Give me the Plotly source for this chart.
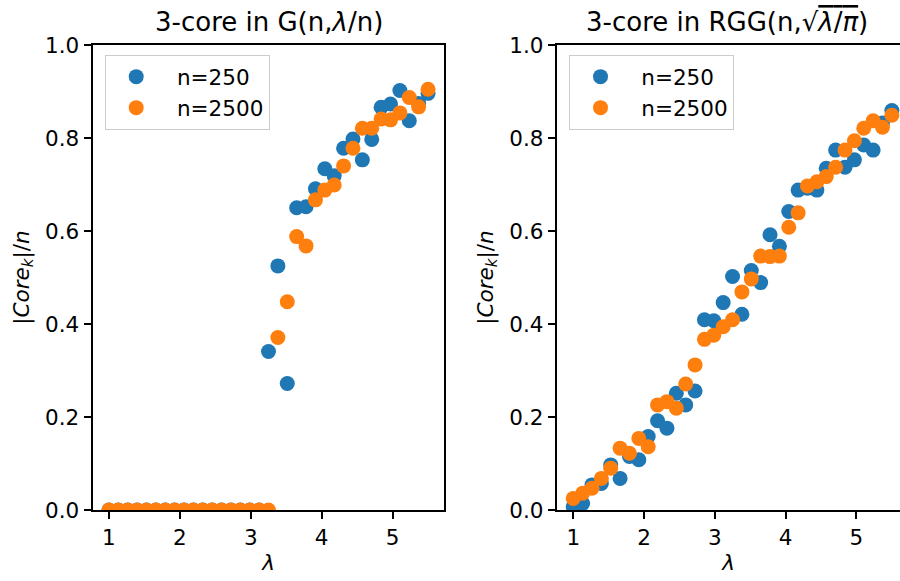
import plotly.graph_objects as go

# lambda values (x) shared by all series
lam = [1.0, 1.1324, 1.2647, 1.3971, 1.5294, 1.6618, 1.7941, 1.9265, 2.0588,
       2.1912, 2.3235, 2.4559, 2.5882, 2.7206, 2.8529, 2.9853, 3.1176, 3.25,
       3.3824, 3.5147, 3.6471, 3.7794, 3.9118, 4.0441, 4.1765, 4.3088, 4.4412,
       4.5735, 4.7059, 4.8382, 4.9706, 5.1029, 5.2353, 5.3676, 5.5]

# Left: 3-core in G(n, lambda/n)
gnp_250 = [0.0, 0.0, 0.0, 0.0, 0.0, 0.0, 0.0, 0.0, 0.0, 0.0, 0.0, 0.0, 0.0,
           0.0, 0.0, 0.0, 0.0, 0.341, 0.525, 0.272, 0.650, 0.652, 0.691,
           0.734, 0.719, 0.778, 0.798, 0.753, 0.797, 0.866, 0.873, 0.902,
           0.837, 0.874, 0.896]
gnp_2500 = [0.0, 0.0, 0.0, 0.0, 0.0, 0.0, 0.0, 0.0, 0.0, 0.0, 0.0, 0.0, 0.0,
            0.0, 0.0, 0.0, 0.0, 0.0, 0.371, 0.448, 0.588, 0.568, 0.667,
            0.688, 0.699, 0.740, 0.778, 0.821, 0.821, 0.841, 0.839, 0.854,
            0.887, 0.867, 0.905]

# Right: 3-core in RGG(n, sqrt(lambda/pi))
rgg_250 = [0.007, 0.014, 0.054, 0.057, 0.097, 0.068, 0.115, 0.108, 0.158,
           0.192, 0.176, 0.251, 0.226, 0.256, 0.409, 0.407, 0.446, 0.502,
           0.421, 0.515, 0.489, 0.592, 0.567, 0.642, 0.688, 0.692, 0.688,
           0.735, 0.774, 0.737, 0.753, 0.785, 0.774, 0.832, 0.859]
rgg_2500 = [0.025, 0.036, 0.047, 0.068, 0.090, 0.133, 0.122, 0.154, 0.136,
            0.226, 0.233, 0.219, 0.271, 0.312, 0.367, 0.376, 0.394, 0.409,
            0.469, 0.497, 0.546, 0.545, 0.546, 0.608, 0.639, 0.697, 0.706,
            0.717, 0.737, 0.774, 0.794, 0.821, 0.837, 0.823, 0.849]

labels = ["n=250", "n=2500"]
colors = ["#1f77b4", "#ff7f0e"]
x_ticks = [1, 2, 3, 4, 5]
y_ticks = [0.0, 0.2, 0.4, 0.6, 0.8, 1.0]
titles = ["3-core in G(n,<i>λ</i>/n)",
          "3-core in RGG(n,√<span style='text-decoration:overline'><i>λ</i>/<i>π</i></span>)"]

FONT = "DejaVu Sans"
FS = 21.5
MS = 15
PAD = "\u2002"  # en space before legend labels

fig = go.Figure()
for ys, name, col in zip([gnp_250, gnp_2500], labels, colors):
    fig.add_trace(go.Scatter(x=lam, y=ys, mode="markers", name=PAD + name,
                             marker=dict(color=col, size=MS),
                             xaxis="x", yaxis="y", legend="legend"))
for ys, name, col in zip([rgg_250, rgg_2500], labels, colors):
    fig.add_trace(go.Scatter(x=lam, y=ys, mode="markers", name=PAD + name,
                             marker=dict(color=col, size=MS),
                             xaxis="x2", yaxis="y2", legend="legend2"))

W, H = 900, 581
ML, MR, MT, MB = 93, 0, 45, 71
PW = W - ML - MR
PH = H - MT - MB
d1 = [0, 351 / PW]
d2 = [(557.3 - ML) / PW, 1]

axis_common = dict(showgrid=False, zeroline=False, showline=True,
                   linecolor="black", linewidth=1.7, ticks="outside",
                   ticklen=7.6, tickwidth=1.7, tickcolor="black",
                   tickfont=dict(family=FONT, size=FS, color="black"))

ytitle = "|<i>Core</i><sub><i>k</i></sub>|/<i>n</i>"

legend_common = dict(bgcolor="rgba(255,255,255,0.8)", bordercolor="#cccccc",
                     borderwidth=1.2, font=dict(family=FONT, size=FS, color="black"),
                     xanchor="left", yanchor="top", itemwidth=50,
                     tracegroupgap=0)

fig.update_layout(
    width=W, height=H, template="none",
    paper_bgcolor="white", plot_bgcolor="white",
    margin=dict(l=ML, r=MR, t=MT, b=MB, pad=0),
    font=dict(family=FONT, color="black"),
    xaxis=dict(domain=d1, range=[0.775, 5.725], tickvals=x_ticks,
               mirror=True, anchor="y",
               title=dict(text="<i>λ</i>", font=dict(family=FONT, size=FS), standoff=6),
               **axis_common),
    yaxis=dict(domain=[0, 1], range=[0, 1.0], tickvals=y_ticks, tickformat=".1f",
               mirror=True, anchor="x",
               title=dict(text=ytitle, font=dict(family=FONT, size=FS), standoff=10),
               **axis_common),
    xaxis2=dict(domain=d2, range=[0.775, 5.615], tickvals=x_ticks,
                mirror=True, anchor="y2",
                title=dict(text="<i>λ</i>", font=dict(family=FONT, size=FS), standoff=6),
                **axis_common),
    yaxis2=dict(domain=[0, 1], range=[0, 1.0], tickvals=y_ticks, tickformat=".1f",
                mirror=False, anchor="x2",
                title=dict(text=ytitle, font=dict(family=FONT, size=FS), standoff=10),
                **axis_common),
    legend=dict(x=(105 - ML) / PW, y=1 - (55 - MT) / PH, **legend_common),
    legend2=dict(x=(569.3 - ML) / PW, y=1 - (55 - MT) / PH, **legend_common),
    showlegend=True,
)

title_x = [(d1[0] + d1[1]) / 2, d2[0] + (351 / PW) / 2 - 6 / PW]
for tx, t in zip(title_x, titles):
    fig.add_annotation(text=t, xref="paper", yref="paper",
                       x=tx, y=1, xanchor="center", yanchor="bottom", yshift=6,
                       showarrow=False, font=dict(family=FONT, size=26, color="black"))

fig.write_html("out.html")
